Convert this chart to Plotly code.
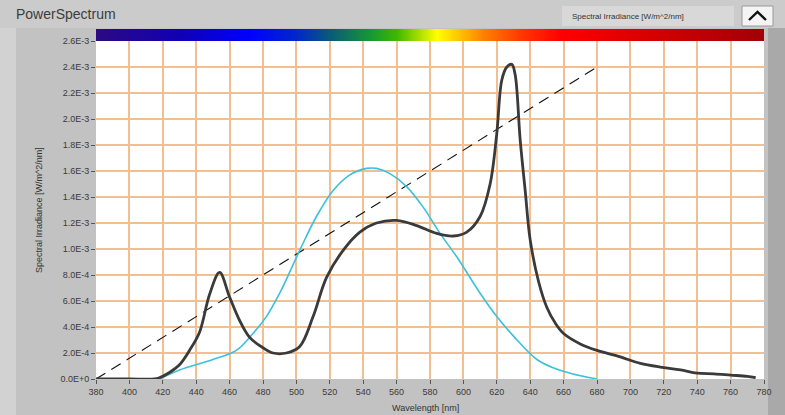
import numpy as np
import plotly.graph_objects as go

# Measured spectral irradiance of the lamp (W/m^2/nm)
wl_meas = [380, 400, 415, 418, 424, 430, 436, 442, 448, 454, 460, 466, 472, 480,
           486, 494, 502, 510, 518, 528, 538, 548, 560, 572, 584, 594, 602, 610,
           616, 620, 623, 626, 629, 631, 634, 637, 640, 645, 650, 655, 660, 670,
           680, 694, 706, 719, 730, 740, 750, 760, 770, 775]
irr_meas = np.array([0, 0, 0, 0.1, 0.5, 1.1, 2.2, 3.6, 6.5, 8.2, 6.3, 4.5, 3.2, 2.4,
                     2.0, 2.0, 2.5, 4.8, 7.8, 9.9, 11.3, 12.0, 12.2, 11.8, 11.2, 11.0, 11.3, 12.5,
                     15.0, 18.9, 23.0, 24.0, 24.2, 23.4, 18.4, 14.5, 10.7, 7.5, 5.5, 4.3, 3.5, 2.7,
                     2.2, 1.7, 1.2, 0.9, 0.7, 0.45, 0.4, 0.3, 0.2, 0.1]) * 1e-4

# Eye-sensitivity reference curve, scaled to the same units
wl_eye = [418, 430, 450, 464, 474, 482, 490, 502, 512, 522, 532, 542, 548, 556,
          566, 576, 586, 596, 610, 620, 630, 644, 655, 665, 680]
irr_eye = np.array([0, 0.7, 1.5, 2.2, 3.5, 4.8, 6.6, 9.9, 12.5, 14.5, 15.7, 16.2, 16.2, 15.8,
                    14.8, 13.2, 11.2, 9.4, 6.6, 4.8, 3.3, 1.5, 0.8, 0.4, 0]) * 1e-4

# Straight reference ramp
wl_ramp = [380, 680]
irr_ramp = [0.0, 2.4e-3]

# Axis ticks
x_ticks = list(range(380, 781, 20))
y_ticks = [i * 2e-4 for i in range(14)]
y_ticktext = ["0.0E+0", "2.0E-4", "4.0E-4", "6.0E-4", "8.0E-4", "1.0E-3", "1.2E-3",
              "1.4E-3", "1.6E-3", "1.8E-3", "2.0E-3", "2.2E-3", "2.4E-3", "2.6E-3"]

# Visible-spectrum strip above the plot
strip_wl = np.arange(380, 781, 2)
spectrum_scale = [
    [0.0, "#2c0a82"], [0.125, "#1000b4"], [0.23, "#0000ff"], [0.30, "#0028c8"],
    [0.35, "#0a5a78"], [0.4125, "#189a30"], [0.45, "#40b800"], [0.485, "#b0e000"],
    [0.51, "#ffff00"], [0.545, "#ffc000"], [0.58, "#ff8000"], [0.635, "#ff3800"],
    [0.695, "#ff0000"], [0.85, "#d00000"], [1.0, "#a00008"],
]

W, H = 785, 415
L, R, T, B = 96, 21, 29, 36
PW, PH = W - L - R, H - T - B


def px(x):
    return (x - L) / PW


def py(y):
    return (H - B - y) / PH


fig = go.Figure()

fig.add_trace(go.Heatmap(
    x=strip_wl, y=[0, 1], z=[strip_wl, strip_wl], colorscale=spectrum_scale,
    zmin=380, zmax=780, showscale=False, zsmooth="best", hoverinfo="skip",
    xaxis="x", yaxis="y2"))

fig.add_trace(go.Scatter(
    x=wl_ramp, y=irr_ramp, mode="lines",
    line=dict(color="#111111", width=1.1, dash="11px,7px")))

fig.add_trace(go.Scatter(
    x=wl_eye, y=irr_eye, mode="lines", line_shape="spline",
    line=dict(color="#3cc0dc", width=1.6)))

fig.add_trace(go.Scatter(
    x=wl_meas, y=irr_meas, mode="lines", line_shape="spline",
    line=dict(color="#3a3a3a", width=2.8)))

grid = "#f2c090"
tickfont = dict(family="Liberation Sans", size=9, color="#3a3a3a")

fig.update_layout(
    width=W, height=H, margin=dict(l=L, r=R, t=T, b=B),
    paper_bgcolor="#c2c2c2", plot_bgcolor="#ffffff", showlegend=False,
    xaxis=dict(range=[380, 780], tickvals=x_ticks, showgrid=True, gridcolor=grid,
               gridwidth=1.5, zeroline=False, ticks="outside", ticklen=4,
               tickcolor="#555555", tickfont=tickfont, showline=False, anchor="y"),
    yaxis=dict(range=[0, 2.6e-3], domain=[0, 338 / PH], tickvals=y_ticks,
               ticktext=y_ticktext, showgrid=True, gridcolor=grid, gridwidth=1.5,
               zeroline=False, ticks="outside", ticklen=4, tickcolor="#555555",
               tickfont=tickfont, showline=False),
    yaxis2=dict(domain=[338 / PH, 1], range=[0, 1], showticklabels=False,
                showgrid=False, zeroline=False, fixedrange=True),
)

shapes = [
    # title strip
    dict(type="rect", xref="paper", yref="paper", x0=px(0), x1=px(W), y0=py(28), y1=py(0),
         fillcolor="#cbcbcb", line_width=0, layer="below"),
    # left edge strip
    dict(type="rect", xref="paper", yref="paper", x0=px(0), x1=px(16), y0=py(H), y1=py(28),
         fillcolor="#d2d2d2", line_width=0, layer="below"),
    # right scroll strip
    dict(type="rect", xref="paper", yref="paper", x0=px(768), x1=px(W), y0=py(H), y1=py(28),
         fillcolor="#a9a9a9", line_width=0, layer="below"),
    # legend box
    dict(type="rect", xref="paper", yref="paper", x0=px(562), x1=px(734), y0=py(26), y1=py(6),
         fillcolor="#d8d8d8", line_width=0, layer="below"),
    # collapse button
    dict(type="rect", xref="paper", yref="paper", x0=px(742), x1=px(773), y0=py(26), y1=py(6),
         fillcolor="#f4f4f4", line=dict(color="#9a9a9a", width=1), layer="below"),
    dict(type="path", xref="paper", yref="paper",
         path=f"M {px(749)} {py(20)} L {px(757.5)} {py(12)} L {px(766)} {py(20)}",
         line=dict(color="#111111", width=2.4)),
]
fig.update_layout(shapes=shapes)

fig.add_annotation(text="PowerSpectrum", xref="paper", yref="paper", x=px(14), y=py(14),
                   xanchor="left", yanchor="middle", showarrow=False,
                   font=dict(family="Liberation Sans", size=14, color="#3c3c3c"))
fig.add_annotation(text="Spectral Irradiance [W/m^2/nm]", xref="paper", yref="paper",
                   x=px(628), y=py(16), xanchor="center", yanchor="middle", showarrow=False,
                   font=dict(family="Liberation Sans", size=8, color="#333333"))
fig.add_annotation(text="Spectral Irradiance [W/m^2/nm]", xref="paper", yref="paper",
                   x=px(39), y=py(210), xanchor="center", yanchor="middle", showarrow=False,
                   textangle=-90, font=dict(family="Liberation Sans", size=9, color="#333333"))
fig.add_annotation(text="Wavelength [nm]", xref="paper", yref="paper",
                   x=px(425), y=py(408), xanchor="center", yanchor="middle", showarrow=False,
                   font=dict(family="Liberation Sans", size=9, color="#333333"))

fig.write_html("out.html")
